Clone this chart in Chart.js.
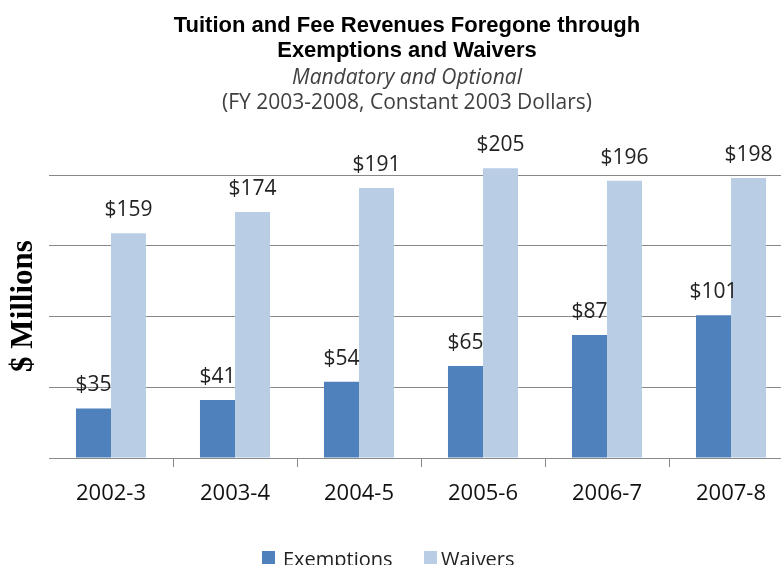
<!DOCTYPE html>
<html>
<head>
<meta charset="utf-8">
<script src="https://cdn.jsdelivr.net/npm/chart.js@4.4.1/dist/chart.umd.min.js"></script>
<style>
  html, body { margin: 0; padding: 0; background: #fff; overflow: hidden; }
  #wrap { width: 814px; height: 565px; }
</style>
</head>
<body>
<div id="wrap"><canvas id="c" width="814" height="565"></canvas></div>
<script>
const categories = ['2002-3', '2003-4', '2004-5', '2005-6', '2006-7', '2007-8'];
const exemptions = [35, 41, 54, 65, 87, 101];
const waivers = [159, 174, 191, 205, 196, 198];
const seriesNames = ['Exemptions', 'Waivers'];
const titleLines = ['Tuition and Fee Revenues Foregone through', 'Exemptions and Waivers'];
const subtitleLines = ['Mandatory and Optional', '(FY 2003-2008, Constant 2003 Dollars)'];
const yAxisTitle = '$ Millions';
const gridValues = [0, 50, 100, 150, 200];

const colors = ['#4F81BD', '#B9CDE5'];

const overlayPlugin = {
  id: 'overlay',
  afterDatasetsDraw(chart) {
    const ctx = chart.ctx;
    ctx.save();
    ctx.font = '21px "Open Sans"';
    ctx.fillStyle = '#222';
    ctx.textAlign = 'center';
    ctx.textBaseline = 'middle';
    chart.data.datasets.forEach((ds, di) => {
      const meta = chart.getDatasetMeta(di);
      meta.data.forEach((el, i) => {
        ctx.fillText('$' + ds.data[i], el.x, el.y - 23);
      });
    });
    ctx.restore();
  },
  afterDraw(chart) {
    const ctx = chart.ctx;
    const cx = 407;
    ctx.save();
    ctx.textAlign = 'center';
    ctx.textBaseline = 'alphabetic';
    ctx.fillStyle = '#000';
    ctx.font = 'bold 22px "Liberation Sans"';
    ctx.fillText(titleLines[0], cx, 32);
    ctx.fillText(titleLines[1], cx, 57);
    ctx.fillStyle = '#404040';
    ctx.font = 'italic 21px "Open Sans"';
    ctx.fillText(subtitleLines[0], cx, 84);
    ctx.font = '21px "Open Sans"';
    ctx.fillText(subtitleLines[1], cx, 109);

    // legend
    ctx.textAlign = 'left';
    ctx.font = '20px "Open Sans"';
    const items = [
      { box: 262, text: 283 },
      { box: 424, text: 441 }
    ];
    chart.data.datasets.forEach((ds, i) => {
      ctx.fillStyle = ds.backgroundColor;
      ctx.fillRect(items[i].box, 551, 13, 13);
      ctx.fillStyle = '#222';
      ctx.fillText(ds.label, items[i].text, 566);
    });
    ctx.restore();
  }
};

new Chart(document.getElementById('c'), {
  type: 'bar',
  data: {
    labels: categories,
    datasets: [
      { label: seriesNames[0], data: exemptions, backgroundColor: colors[0], borderWidth: 0 },
      { label: seriesNames[1], data: waivers, backgroundColor: colors[1], borderWidth: 0 }
    ]
  },
  options: {
    responsive: false,
    animation: false,
    devicePixelRatio: 1,
    layout: { padding: { top: 154, right: 21, left: 0, bottom: 0 } },
    plugins: {
      legend: { display: false },
      title: { display: false },
      tooltip: { enabled: false }
    },
    datasets: {
      bar: { categoryPercentage: 0.565, barPercentage: 1.0 }
    },
    scales: {
      x: {
        grid: {
          display: true,
          drawOnChartArea: false,
          drawTicks: true,
          tickLength: 9,
          offset: true,
          color: (c) => (c.index === 0 ? 'rgba(0,0,0,0)' : '#8a8a8a')
        },
        border: { display: true, color: '#8a8a8a', width: 1 },
        ticks: {
          font: { family: '"Open Sans"', size: 22 },
          color: '#111',
          padding: 14,
          maxRotation: 0
        },
        afterFit(scale) { scale.height = 107; }
      },
      y: {
        min: 0,
        max: 215,
        ticks: { display: false, stepSize: 50 },
        afterBuildTicks(scale) {
          scale.ticks = gridValues.map(v => ({ value: v }));
        },
        grid: { color: '#888', lineWidth: 1, drawTicks: false },
        border: { display: false },
        title: {
          display: true,
          text: yAxisTitle,
          font: { family: '"Liberation Serif"', size: 31, weight: 'bold' },
          color: '#000',
          padding: { top: 5, bottom: 0 }
        },
        afterFit(scale) { scale.width = 49; }
      }
    }
  },
  plugins: [overlayPlugin]
});
</script>
</body>
</html>
